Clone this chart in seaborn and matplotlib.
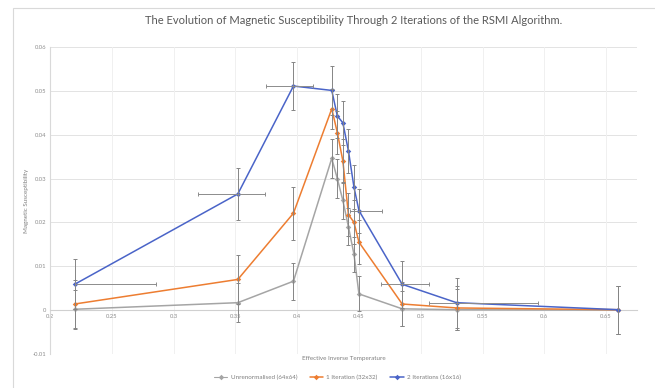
import numpy as np
import pandas as pd
import matplotlib
matplotlib.use("Agg")
import matplotlib.pyplot as plt
from matplotlib.patches import Rectangle
import seaborn as sns

# effective inverse temperature (shared by all three series)
inv_temp = [0.22, 0.352, 0.397, 0.428, 0.4325, 0.437, 0.4415, 0.446, 0.45, 0.485, 0.529, 0.66]

# magnetic susceptibility
chi_64 = [0.0002, 0.0017, 0.0066, 0.0346, 0.030, 0.025, 0.019, 0.0127, 0.0037, 0.0003, 0.0001, 0.0]
chi_32 = [0.0014, 0.0070, 0.0221, 0.0459, 0.0405, 0.0340, 0.0218, 0.0200, 0.0155, 0.0014, 0.0005, 0.0001]
chi_16 = [0.0059, 0.0265, 0.0511, 0.0501, 0.0443, 0.0427, 0.0363, 0.0280, 0.0227, 0.0059, 0.0017, 0.0001]

# vertical error bars
err_64 = [0.0045, 0.0045, 0.0042, 0.0045, 0.0045, 0.0042, 0.0042, 0.004, 0.004, 0.004, 0.0047, 0.0055]
err_32 = [0.0054, 0.0055, 0.006, 0.0045, 0.005, 0.005, 0.005, 0.005, 0.005, 0.005, 0.005, 0.0055]
err_16 = [0.0057, 0.0059, 0.0055, 0.0055, 0.005, 0.005, 0.005, 0.005, 0.005, 0.0053, 0.0057, 0.0055]

# horizontal error bars (only on the 16x16 series)
xerr_lo_16 = [0.0, 0.032, 0.022, 0.0, 0.0, 0.0, 0.0, 0.0, 0.007, 0.0175, 0.022, 0.0]
xerr_hi_16 = [0.066, 0.022, 0.016, 0.0, 0.0, 0.0, 0.0, 0.0, 0.019, 0.022, 0.066, 0.0]

names = ["Unrenormalised (64x64)", "1 Iteration (32x32)", "2 Iterations (16x16)"]
colours = ["#a5a5a5", "#ed7d31", "#4a64c8"]
widths = [0.8, 1.1, 1.1]

x_ticks = [0.2, 0.25, 0.3, 0.35, 0.4, 0.45, 0.5, 0.55, 0.6, 0.65]
x_labels = ["0.2", "0.25", "0.3", "0.35", "0.4", "0.45", "0.5", "0.55", "0.6", "0.65"]
y_ticks = [-0.01, 0, 0.01, 0.02, 0.03, 0.04, 0.05, 0.06]
y_labels = ["-0.01", "0", "0.01", "0.02", "0.03", "0.04", "0.05", "0.06"]

df = pd.DataFrame({
    "x": inv_temp * 3,
    "chi": chi_64 + chi_32 + chi_16,
    "series": [names[0]] * len(inv_temp) + [names[1]] * len(inv_temp) + [names[2]] * len(inv_temp),
})

sns.set_theme(style="white")
plt.rcParams["font.family"] = ["Lato", "DejaVu Sans"]

fig = plt.figure(figsize=(6.55, 3.88), dpi=100)
ax = fig.add_axes([50 / 655, 1 - 354 / 388, 587 / 655, 307 / 388])

# gridlines
for yt in y_ticks:
    ax.axhline(yt, color="#e3e3e3", lw=0.7, zorder=0)
for xt in x_ticks[1:]:
    ax.axvline(xt, color="#f0f0f0", lw=0.7, zorder=0)

sns.lineplot(data=df, x="x", y="chi", hue="series", palette=colours, hue_order=names,
             estimator=None, sort=False, marker="D", markersize=2.8, markeredgewidth=0,
             linewidth=1.1, ax=ax, legend=True, zorder=3)
for line, w in zip(ax.get_lines()[-3:], widths):
    line.set_linewidth(w)

# error bars
for vals, errs in [(chi_64, err_64), (chi_32, err_32), (chi_16, err_16)]:
    ax.errorbar(inv_temp, vals, yerr=errs, fmt="none", ecolor="#858585",
                elinewidth=0.7, capsize=1.5, capthick=0.7, zorder=4)

mask = [(lo + hi) > 0 for lo, hi in zip(xerr_lo_16, xerr_hi_16)]
hx = [v for v, m in zip(inv_temp, mask) if m]
hy = [v for v, m in zip(chi_16, mask) if m]
hlo = [v for v, m in zip(xerr_lo_16, mask) if m]
hhi = [v for v, m in zip(xerr_hi_16, mask) if m]
ax.errorbar(hx, hy, xerr=[hlo, hhi], fmt="none", ecolor="#8c8c8c",
            elinewidth=0.7, capsize=1.5, capthick=0.7, zorder=4)

ax.set_xlim(0.2, 0.675)
ax.set_ylim(-0.01, 0.06)
ax.set_xticks(x_ticks)
ax.set_xticklabels(x_labels)
ax.set_yticks(y_ticks)
ax.set_yticklabels(y_labels)
ax.tick_params(axis="both", length=0, labelsize=4.2, colors="#8c8c8c", pad=2.5)

for s in ["top", "right"]:
    ax.spines[s].set_visible(False)
ax.spines["bottom"].set_position(("data", 0))
ax.spines["bottom"].set_color("#d0d0d0")
ax.spines["bottom"].set_linewidth(0.8)
ax.spines["left"].set_color("#d9d9d9")
ax.spines["left"].set_linewidth(0.8)

ax.set_xlabel("Effective Inverse Temperature", fontsize=4.5, color="#7f7f7f")
ax.xaxis.set_label_coords(0.5, -0.005)
ax.set_ylabel("Magnetic Susceptibility", fontsize=4.5, color="#7f7f7f")
ax.yaxis.set_label_coords(-0.036, 0.5)

handles, labels = ax.get_legend_handles_labels()
ax.get_legend().remove()
fig.legend(handles, labels, loc="center", bbox_to_anchor=(0.515, 0.026), ncol=3,
           frameon=False, fontsize=4.5, labelcolor="#7f7f7f", handlelength=2.2,
           columnspacing=2.0, handletextpad=0.5)

fig.suptitle("The Evolution of Magnetic Susceptibility Through 2 Iterations of the RSMI Algorithm.",
             x=354 / 655, y=1 - 20 / 388, va="center", fontsize=8, color="#595959")

fig.patches.append(Rectangle((13 / 655, -0.01), 1.0, 1 - 8 / 388 + 0.01,
                             transform=fig.transFigure, fill=False,
                             edgecolor="#d9d9d9", lw=0.8))

fig.savefig("out.png", dpi=100)
